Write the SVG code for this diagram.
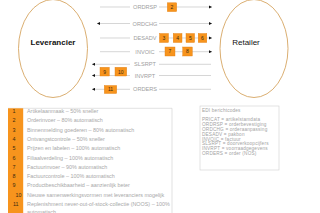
<svg xmlns="http://www.w3.org/2000/svg" width="320" height="213" viewBox="0 0 320 213">
<style>
text{font-family:"Liberation Sans",Arial,sans-serif}
.ell{fill:#fff;stroke:#d6a561;stroke-width:0.9}
.big{font-size:8px;fill:#111}
.ln{fill:none;stroke:#c4c4c4;stroke-width:0.7}
.lbl{font-size:5.6px;fill:#a0a0a0;text-anchor:middle}
.box{fill:#f7941d;stroke:#e07d10;stroke-width:0.4}
.bn{font-size:5px;fill:#3a2a10;text-anchor:middle}
.lg{font-size:5.4px;fill:#a8a8a8}
.num{font-size:5.4px;fill:#3a2a10}
.edi{font-size:4.7px;fill:#a3a3a3;letter-spacing:0.18px}
.frame{fill:#fff;stroke:#cfcfcf;stroke-width:0.6}
</style>
<defs>
<marker id="ah" viewBox="0 0 6 6" refX="6" refY="3" markerWidth="3.2" markerHeight="3.2" orient="auto-start-reverse" markerUnits="userSpaceOnUse">
<path d="M0 0 L6 3 L0 6 Z" fill="#111"/>
</marker>
</defs>
<rect width="320" height="213" fill="#fff"/>
<g id="leverancier">
<ellipse class="ell" cx="53" cy="48.5" rx="34.5" ry="49"/>
<text class="big" x="53" y="45" text-anchor="middle" font-weight="bold">Leverancier</text>
</g>
<g id="retailer">
<ellipse class="ell" cx="254" cy="48.5" rx="34" ry="49"/>
<text class="big" x="246" y="45" text-anchor="middle">Retailer</text>
</g>
<g id="connectors">
<path class="ln" d="M100 7 H130 M159 7 H212" marker-end="url(#ah)"/>
<path class="ln" d="M97 23.5 H130 M159 23.5 H212" marker-start="url(#ah)" marker-end="url(#ah)"/>
<path class="ln" d="M100 38 H130 M159 38 H212" marker-end="url(#ah)"/>
<path class="ln" d="M100 51.7 H130 M159 51.7 H212" marker-end="url(#ah)"/>
<path class="ln" d="M92 64.3 H130 M159 64.3 H211" marker-start="url(#ah)"/>
<path class="ln" d="M92 75.5 H130 M159 75.5 H211" marker-start="url(#ah)"/>
<path class="ln" d="M92 89.3 H130 M159 89.3 H211" marker-start="url(#ah)"/>
<text class="lbl" x="145" y="9">ORDRSP</text>
<text class="lbl" x="145" y="25.5">ORDCHG</text>
<text class="lbl" x="145" y="40">DESADV</text>
<text class="lbl" x="145" y="53.7">INVOIC</text>
<text class="lbl" x="145" y="66.3">SLSRPT</text>
<text class="lbl" x="145" y="77.5">INVRPT</text>
<text class="lbl" x="145" y="91.3">ORDERS</text>
</g>
<g id="badges">
<g id="b2"><rect class="box" x="167.3" y="2.8" width="9.4" height="8.8"/><text class="bn" x="172" y="9">2</text></g>
<g id="b3"><rect class="box" x="159.5" y="33.5" width="9" height="9"/><text class="bn" x="164" y="39.8">3</text></g>
<g id="b4"><rect class="box" x="173.2" y="33.5" width="8.8" height="9"/><text class="bn" x="177.6" y="39.8">4</text></g>
<g id="b5"><rect class="box" x="186" y="33.5" width="8.6" height="9"/><text class="bn" x="190.3" y="39.8">5</text></g>
<g id="b6"><rect class="box" x="198.2" y="33.5" width="8.6" height="9"/><text class="bn" x="202.5" y="39.8">6</text></g>
<g id="b7"><rect class="box" x="165" y="47" width="10" height="9"/><text class="bn" x="170" y="53.3">7</text></g>
<g id="b8"><rect class="box" x="182.7" y="47" width="9.6" height="9"/><text class="bn" x="187.5" y="53.3">8</text></g>
<g id="b9"><rect class="box" x="100" y="67.3" width="9.3" height="8.7"/><text class="bn" x="104.6" y="73.5">9</text></g>
<g id="b10"><rect class="box" x="115" y="67.3" width="11.7" height="8.7"/><text class="bn" x="120.8" y="73.5">10</text></g>
<g id="b11"><rect class="box" x="104.3" y="85.5" width="12.4" height="8"/><text class="bn" x="110.5" y="91.3">11</text></g>
</g>
<g id="legend">
<path d="M8 108.3 H172 V213" fill="none" stroke="#cfcfcf" stroke-width="0.6"/>
<rect x="8" y="108.3" width="15.2" height="105" fill="#f7941d"/>
<text class="num" x="12.5" y="113">1</text>
<text class="num" x="12.5" y="122.3">2</text>
<text class="num" x="12.5" y="131.6">3</text>
<text class="num" x="12.5" y="140.9">4</text>
<text class="num" x="12.5" y="150.2">5</text>
<text class="num" x="12.5" y="159.5">6</text>
<text class="num" x="12.5" y="168.8">7</text>
<text class="num" x="12.5" y="178.1">8</text>
<text class="num" x="12.5" y="187.4">9</text>
<text class="num" x="15.5" y="196.7">10</text>
<text class="num" x="13" y="206">11</text>
<text class="lg" x="27" y="113">Artikelaanmaak – 50% sneller</text>
<text class="lg" x="27" y="122.3">Orderinvoer – 80% automatisch</text>
<text class="lg" x="27" y="131.6">Binnenmelding goederen – 80% automatisch</text>
<text class="lg" x="27" y="140.9">Ontvangstcontrole – 50% sneller</text>
<text class="lg" x="27" y="150.2">Prijzen en labelen – 100% automatisch</text>
<text class="lg" x="27" y="159.5">Filiaalverdeling – 100% automatisch</text>
<text class="lg" x="27" y="168.8">Factuurinvoer – 90% automatisch</text>
<text class="lg" x="27" y="178.1">Factuurcontrole – 100% automatisch</text>
<text class="lg" x="27" y="187.4">Productbeschikbaarheid – aanzienlijk beter</text>
<text class="lg" x="27" y="196.7">Nieuwe samenwerkingsvormen met leveranciers mogelijk</text>
<text class="lg" x="27" y="206">Replenishment never-out-of-stock-collectie (NOOS) – 100%</text>
<text class="lg" x="27" y="213.5">automatisch</text>
</g>
<g id="edi">
<rect class="frame" x="200" y="106" width="79" height="64"/>
<text class="edi" x="202" y="112">EDI berichtcodes</text>
<text class="edi" x="202" y="121.3">PRICAT = artikelstamdata</text>
<text class="edi" x="202" y="126.1">ORDRSP = orderbevestiging</text>
<text class="edi" x="202" y="130.9">ORDCHG = orderaanpassing</text>
<text class="edi" x="202" y="135.7">DESADV = pakbon</text>
<text class="edi" x="202" y="140.5">INVOIC = factuur</text>
<text class="edi" x="202" y="145.3">SLSRPT = doorverkoopcijfers</text>
<text class="edi" x="202" y="150.1">INVRPT = voorraadgegevens</text>
<text class="edi" x="202" y="154.9">ORDERS = order (NOS)</text>
</g>
</svg>
